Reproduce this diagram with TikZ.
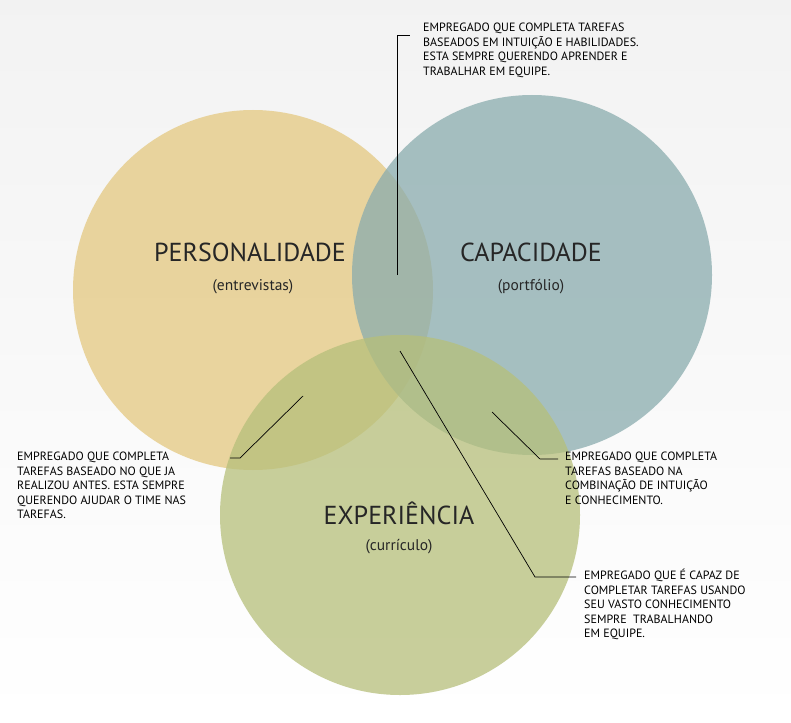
\documentclass[tikz,border=0pt]{standalone}
\usepackage{fontspec}
\setmainfont{PT Sans}
\begin{document}
\begin{tikzpicture}[x=1pt,y=-1pt,
  circ/.style={fill opacity=0.75},
  title/.style={font=\fontsize{26}{28}\selectfont, text=black!85},
  sub/.style={font=\fontsize{15.5}{18}\selectfont, text=black!85},
  note/.style={font=\fontsize{12}{14.5}\selectfont, align=left, anchor=north west, inner sep=0pt, text=black},
  lead/.style={draw=black, line width=0.7pt}]
\useasboundingbox (0,0) rectangle (791,722);
\shade[top color=white!90!gray, bottom color=white] (0,0) rectangle (791,722);
\fill[circ, fill={rgb,255:red,228;green,200;blue,128}] (253,290) circle (180);
\fill[circ, fill={rgb,255:red,138;green,172;blue,174}] (532,275) circle (180);
\fill[circ, fill={rgb,255:red,182;green,191;blue,122}] (400,515) circle (180);
\node[title] (p) at (250,252) {PERSONALIDADE};
\node[sub] (pe) at (253,287) {(entrevistas)};
\node[title] (c) at (531,252) {CAPACIDADE};
\node[sub] (cp) at (531,287) {(portfólio)};
\node[title] (e) at (399,513) {EXPERIÊNCIA};
\node[sub] (ec) at (399,547) {(currículo)};
\node[note] (t1) at (423,23) {EMPREGADO QUE COMPLETA TAREFAS\\BASEADOS EM INTUIÇÃO E HABILIDADES.\\ESTA SEMPRE QUERENDO APRENDER E\\TRABALHAR EM EQUIPE.};
\node[note] (t2) at (17,452) {EMPREGADO QUE COMPLETA\\TAREFAS BASEADO NO QUE JA\\REALIZOU ANTES. ESTA SEMPRE\\QUERENDO AJUDAR O TIME NAS\\TAREFAS.};
\node[note] (t3) at (565,452) {EMPREGADO QUE COMPLETA\\TAREFAS BASEADO NA\\COMBINAÇÃO DE INTUIÇÃO\\E CONHECIMENTO.};
\node[note] (t4) at (584,569) {EMPREGADO QUE É CAPAZ DE\\COMPLETAR TAREFAS USANDO\\SEU VASTO CONHECIMENTO\\SEMPRE\ \ TRABALHANDO\\EM EQUIPE.};
\coordinate (a1) at (397,275); \coordinate (b1) at (397,35); \coordinate (c1) at (410,35);
\draw[lead] (a1) -- (b1) -- (c1);
\coordinate (a2) at (303,396); \coordinate (b2) at (240,458); \coordinate (c2) at (230,458);
\draw[lead] (a2) -- (b2) -- (c2);
\coordinate (a3) at (492,412); \coordinate (b3) at (540,459); \coordinate (c3) at (558,459);
\draw[lead] (a3) -- (b3) -- (c3);
\coordinate (a4) at (400,351); \coordinate (b4) at (535,577); \coordinate (c4) at (576,577);
\draw[lead] (a4) -- (b4) -- (c4);
\end{tikzpicture}
\end{document}
